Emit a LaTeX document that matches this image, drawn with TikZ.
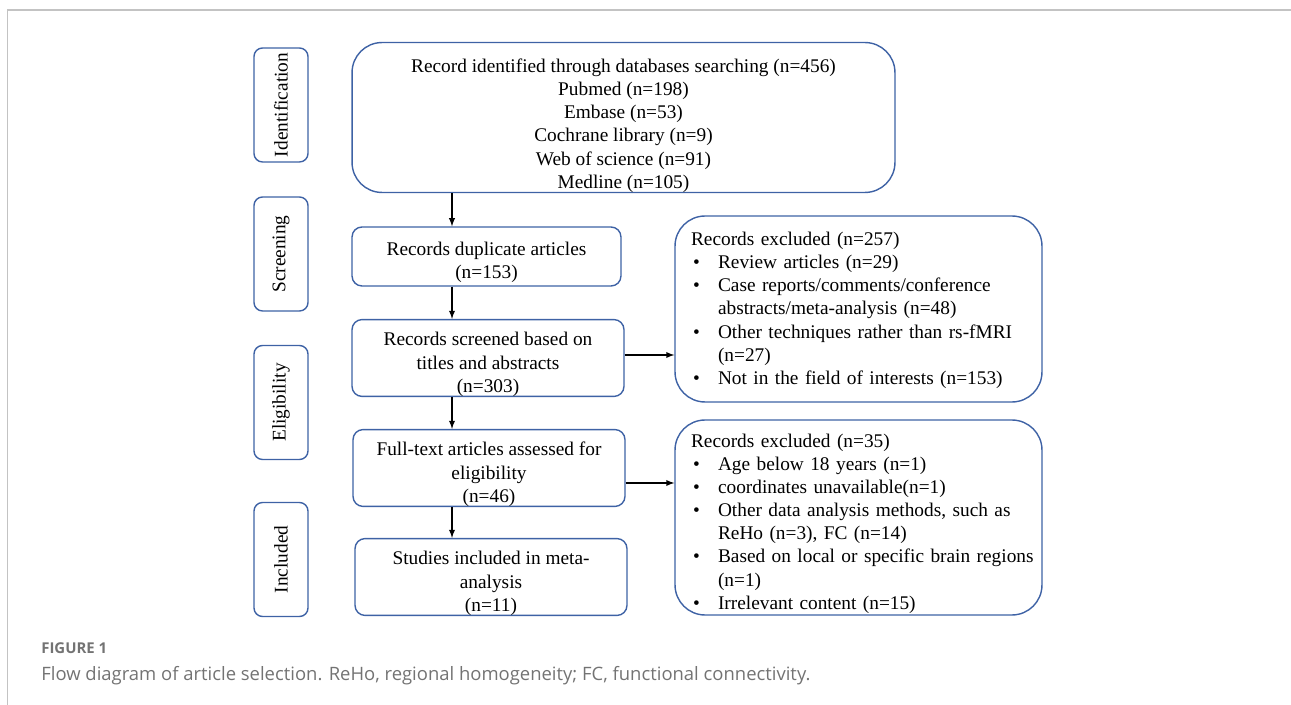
\documentclass[tikz,border=0pt]{standalone}
\usepackage{fontspec}
\setmainfont{Liberation Serif}
\newfontfamily\capfont{Open Sans}
\usepackage{tikz}

\definecolor{boxblue}{RGB}{62,98,165}
\definecolor{framegray}{RGB}{195,195,195}
\definecolor{capgray}{RGB}{115,115,115}

\newcommand{\exbul}{\makebox[0.54cm][l]{\hspace{0.04cm}\textbullet}}
\newcommand{\exind}{\hspace{0.54cm}}
\newcommand{\firstgap}[1]{\rule{0pt}{#1}}

\tikzset{
  stagebox/.style={draw=boxblue, line width=0.8pt, rounded corners=0.17cm, rotate=90,
    minimum width=2.28cm, minimum height=1.08cm, inner sep=0pt, font=\fontsize{11}{13.2}\selectfont},
  flowbox/.style={draw=boxblue, line width=0.8pt, rounded corners=0.2cm, align=center,
    inner sep=0pt, minimum width=5.44cm, minimum height=1.48cm, font=\fontsize{11}{13.2}\selectfont},
  exbox/.style={draw=boxblue, line width=0.8pt, rounded corners=0.6cm, align=left,
    inner xsep=0.32cm, inner ysep=0pt, text width=6.7cm, font=\fontsize{11}{13.2}\selectfont},
  flowarrow/.style={-latex, line width=0.6pt}
}

\begin{document}
\begin{tikzpicture}[x=0.02cm, y=-0.02cm]
\useasboundingbox (0,0) rectangle (1291,705);
\draw[framegray, line width=0.8pt] (1291,10) -- (7.5,10) -- (7.5,705);

%stages
\node[stagebox] (identification) at (281,105) {Identification};
\node[stagebox] (screening) at (281,254) {Screening};
\node[stagebox] (eligibility) at (281,402.5) {Eligibility};
\node[stagebox] (included) at (281,559.5) {Included};

%main column
\node[flowbox, rounded corners=0.6cm, minimum width=10.86cm, minimum height=2.96cm] (search) at (623.5,117.5)
  {\firstgap{17pt}Record identified through databases searching (n=456)\\Pubmed (n=198)\\Embase (n=53)\\Cochrane library (n=9)\\Web of science (n=91)\\Medline (n=105)};
\node[flowbox, minimum width=5.38cm, minimum height=1.18cm] (duplicate) at (486.5,256.5) {\firstgap{14.4pt}Records duplicate articles\\(n=153)};
\node[flowbox] (screened) at (488,358) {\firstgap{15pt}Records screened based on\\titles and abstracts\\(n=303)};
\node[flowbox] (fulltext) at (489,468) {\firstgap{15pt}Full-text articles assessed for\\eligibility\\(n=46)};
\node[flowbox] (studies) at (491,577) {\firstgap{15pt}Studies included in meta-\\analysis\\(n=11)};

%excluded
\node[exbox, minimum height=3.72cm] (excludedA) at (858.5,309)
  {\firstgap{9pt}Records excluded (n=257)\\
   \exbul Review articles (n=29)\\
   \exbul Case reports/comments/conference\\
   \exind abstracts/meta-analysis (n=48)\\
   \exbul Other techniques rather than rs-fMRI\\
   \exind (n=27)\\
   \exbul Not in the field of interests (n=153)};
\node[exbox, minimum height=3.9cm] (excludedB) at (858.5,517.5)
  {\firstgap{14.5pt}Records excluded (n=35)\\
   \exbul Age below 18 years (n=1)\\
   \exbul coordinates unavailable(n=1)\\
   \exbul Other data analysis methods, such as\\
   \exind ReHo (n=3), FC (n=14)\\
   \mbox{\exbul Based on local or specific brain regions}\\
   \exind (n=1)\\
   \exbul Irrelevant content (n=15)};

%arrows
\coordinate (axis) at (452,0);
\draw[flowarrow] (search.south -| axis) -- (duplicate.north -| axis);
\draw[flowarrow] (duplicate.south -| axis) -- (screened.north -| axis);
\draw[flowarrow] (screened.south -| axis) -- (fulltext.north -| axis);
\draw[flowarrow] (fulltext.south -| axis) -- (studies.north -| axis);
\draw[flowarrow] ([yshift=0.06cm]screened.east) -- ([yshift=0.06cm]screened.east -| excludedA.west);
\draw[flowarrow] ([yshift=-0.3cm]fulltext.east) -- ([yshift=-0.3cm]fulltext.east -| excludedB.west);

%caption
\node[anchor=base west, inner sep=0pt, text=capgray, font=\capfont\bfseries\fontsize{8.5}{10}\selectfont] (figlabel) at (41,653) {FIGURE 1};
\node[anchor=base west, inner sep=0pt, text=capgray, font=\capfont\fontsize{10.5}{12}\selectfont] (figcaption) at (41,680)
  {Flow diagram of article selection. ReHo, regional homogeneity; FC, functional connectivity.};
\end{tikzpicture}
\end{document}
